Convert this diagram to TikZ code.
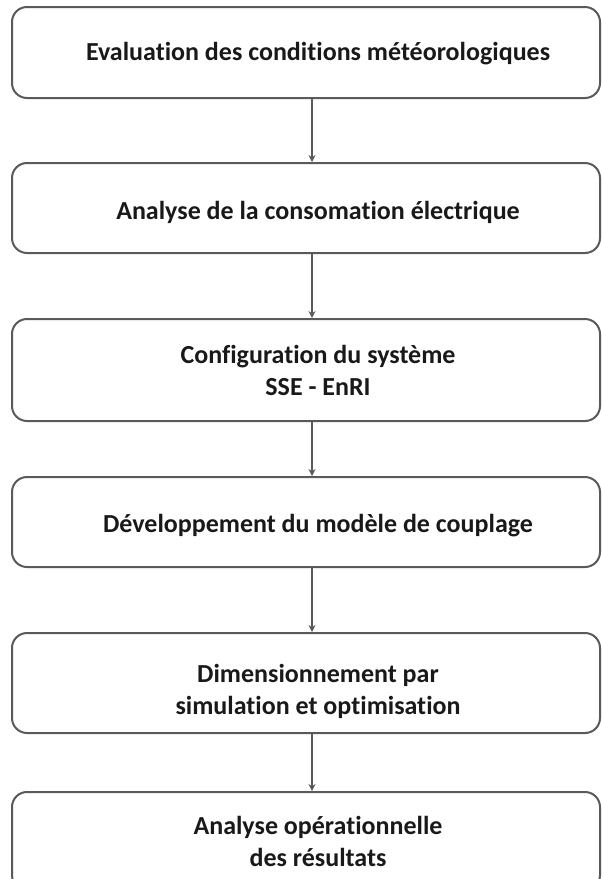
\documentclass[tikz,border=0pt]{standalone}
\usepackage{fontspec}
\setmainfont{Carlito}[Ligatures=NoCommon]
\usepackage{xcolor}
\usepackage{tikz}
\usetikzlibrary{arrows.meta}
\definecolor{boxline}{RGB}{90,90,90}
\definecolor{boxtext}{RGB}{25,25,25}

\begin{document}
\begin{tikzpicture}[x=1pt,y=-1pt,
box/.style={draw=boxline,line width=2pt,rounded corners=15pt,minimum width=588pt},
lbl/.style={align=center,text=boxtext,font=\fontsize{26}{32}\selectfont\bfseries},
arr/.style={-{Stealth[length=7pt,width=7pt]},line width=1.2pt,draw=boxline}]
\useasboundingbox(0,0)rectangle(602,879);
\node[box,minimum height=91pt](eval)at(306,52.5){};
\node[box,minimum height=90pt](conso)at(306,208){};
\node[box,minimum height=102pt](config)at(306,370){};
\node[box,minimum height=90pt](modele)at(306,522){};
\node[box,minimum height=100pt](dimens)at(306,683){};
\node[box,minimum height=98pt](analyse)at(306,841){};
\node[lbl](eval-t)at([xshift=12pt,yshift=-1pt]eval){Evaluation des conditions météorologiques};
\node[lbl](conso-t)at([xshift=12pt,yshift=-4pt]conso){Analyse de la consomation électrique};
\node[lbl](config-t)at([xshift=12pt]config){Configuration du système\\SSE - EnRI};
\node[lbl](modele-t)at([xshift=12pt,yshift=-4pt]modele){Développement du modèle de couplage};
\node[lbl](dimens-t)at([xshift=12pt,yshift=-8pt]dimens){Dimensionnement par\\simulation et optimisation};
\node[lbl](analyse-t)at([xshift=12pt]analyse){Analyse opérationnelle\\des résultats};
\draw[arr]([xshift=6pt]eval.south)--([xshift=6pt]conso.north);
\draw[arr]([xshift=6pt]conso.south)--([xshift=6pt]config.north);
\draw[arr]([xshift=6pt]config.south)--([xshift=6pt]modele.north);
\draw[arr]([xshift=6pt]modele.south)--([xshift=6pt]dimens.north);
\draw[arr]([xshift=6pt]dimens.south)--([xshift=6pt]analyse.north);
\end{tikzpicture}
\end{document}
